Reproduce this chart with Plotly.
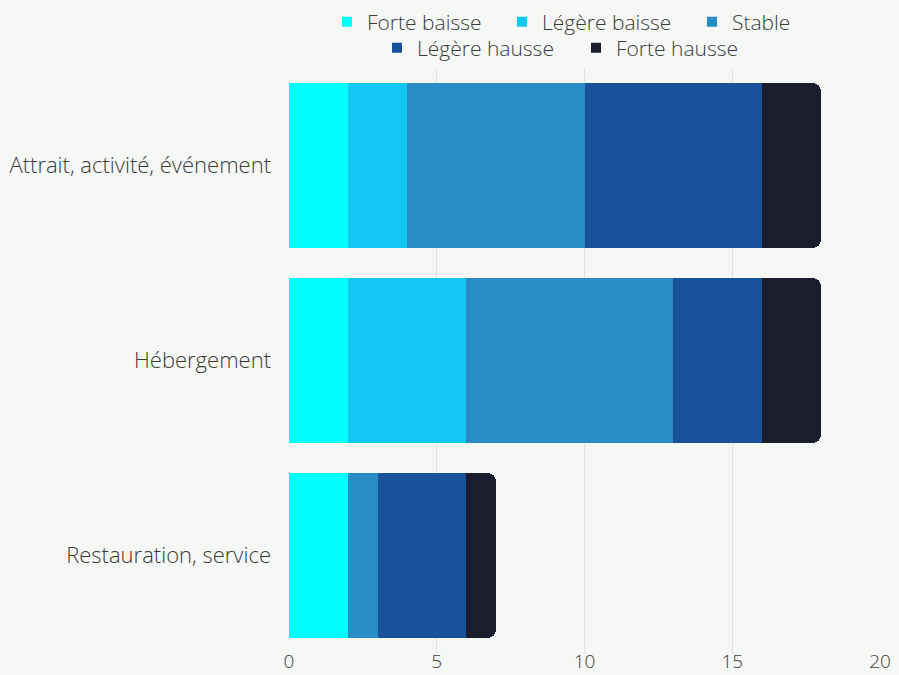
import plotly.graph_objects as go

categories = ["Attrait, activité, événement", "Hébergement", "Restauration, service"]
series_names = ["Forte baisse", "Légère baisse", "Stable", "Légère hausse", "Forte hausse"]
forte_baisse = [2, 2, 2]
legere_baisse = [2, 4, 0]
stable = [6, 7, 1]
legere_hausse = [6, 3, 3]
forte_hausse = [2, 2, 1]
x_ticks = [0, 5, 10, 15, 20]

values = [forte_baisse, legere_baisse, stable, legere_hausse, forte_hausse]
colors = ["#00ffff", "#12c8f2", "#2a8cc4", "#17529b", "#1b1d2e"]

# legend item placement in pixels: left edge x, center y
legend_pos = [(327, 22), (502, 22), (692, 22), (377, 48), (576, 48)]

W, H = 899, 675
font = "Open Sans, sans-serif"
txt = "#3a3a3a"

fig = go.Figure()
for name, vals, col in zip(series_names, values, colors):
    fig.add_trace(go.Bar(
        y=categories, x=vals, name=name, orientation="h",
        marker=dict(color=col, line=dict(width=0)),
        showlegend=False,
    ))

legend_layouts = {}
for i, (name, col, (lx, ly)) in enumerate(zip(series_names, colors, legend_pos)):
    key = "legend" if i == 0 else f"legend{i+1}"
    fig.add_trace(go.Scatter(
        x=[None], y=[None], mode="markers", name=name,
        marker=dict(symbol="square", size=10, color=col),
        showlegend=True, legend=key,
    ))
    legend_layouts[key] = dict(
        orientation="h", xref="container", yref="container",
        x=lx / W, xanchor="left", y=1 - ly / H, yanchor="middle",
        font=dict(family=font, size=21, color=txt, weight=300),
        itemwidth=30, bgcolor="rgba(0,0,0,0)", borderwidth=0,
    )

fig.update_layout(
    width=W, height=H,
    barmode="stack",
    bargap=0.154,
    barcornerradius=8,
    paper_bgcolor="#f6f8f6",
    plot_bgcolor="#f6f8f6",
    margin=dict(l=289, r=19, t=68, b=22, autoexpand=False),
    font=dict(family=font, size=21, color=txt, weight=300),
    xaxis=dict(range=[0, 20], tickvals=x_ticks, showgrid=True, gridcolor="#e0e0e0",
               gridwidth=1, zeroline=False, showline=False, ticks="",
               automargin=False, ticklabelstandoff=-5,
               tickfont=dict(size=19, color=txt, weight=300)),
    yaxis=dict(categoryorder="array", categoryarray=categories, autorange="reversed",
               showgrid=False, zeroline=False, showline=False, ticks="",
               ticklabelstandoff=17, automargin=False,
               tickfont=dict(size=22, color=txt, weight=300)),
    **legend_layouts,
)

fig.write_html("out.html", config={"displayModeBar": False},
               post_script="document.body.style.margin='0';document.body.style.overflow='hidden';")
